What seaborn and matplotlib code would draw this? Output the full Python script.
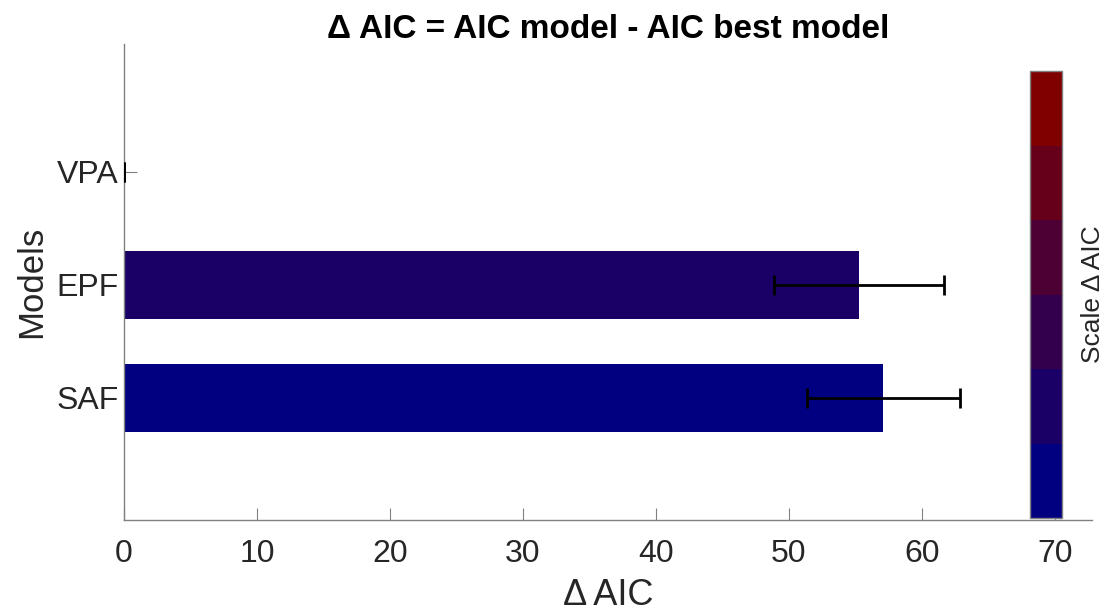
import numpy as np
import pandas as pd
import matplotlib
matplotlib.use("Agg")
import matplotlib.pyplot as plt
import seaborn as sns
from matplotlib.colors import ListedColormap, BoundaryNorm
import matplotlib.colorbar as mcolorbar

# ---- data ----
models = ["VPA", "EPF", "SAF"]
delta_aic = [0.0, 55.3, 57.1]
delta_err = [0.0, 6.4, 5.75]
scale_colors = ["#000080", "#1a0066", "#33004d", "#4d0033", "#66001a", "#800000"]
bar_colors = ["#000080", "#1a0066", "#000080"]
x_ticks = [0, 10, 20, 30, 40, 50, 60, 70]

sns.set_style("white")
plt.rcParams['font.family'] = ['Liberation Sans', 'DejaVu Sans']

fig = plt.figure(figsize=(11.06, 6.16), dpi=100)
ax = fig.add_axes([124/1106, 1-520/616, (1092-124)/1106, (520-44)/616])

df = pd.DataFrame({"model": models, "value": delta_aic})
sns.barplot(data=df, x="value", y="model", hue="model", palette=bar_colors,
            orient="h", width=0.6, ax=ax, legend=False, saturation=1, edgecolor="none")

ypos = np.arange(len(models))
ax.errorbar(delta_aic, ypos, xerr=delta_err, fmt="none", ecolor="black",
            elinewidth=2.0, capsize=7, capthick=2.0, zorder=5)

ax.set_xlim(0, 72.8)
ax.set_ylim(3.08, -1.13)
ax.set_xticks(x_ticks)
ax.set_xticklabels([str(t) for t in x_ticks])

for s in ["top", "right"]:
    ax.spines[s].set_visible(False)
for s in ["left", "bottom"]:
    ax.spines[s].set_color("#808080")
    ax.spines[s].set_linewidth(1.0)

ax.tick_params(axis="both", direction="in", length=9, width=0.8, color="#808080",
               labelsize=23, labelcolor="#262626", bottom=True, left=True)
ax.tick_params(axis="x", pad=14)
ax.tick_params(axis="y", pad=4)

ax.set_xlabel("Δ AIC", fontsize=26, color="#262626", labelpad=6)
ax.set_ylabel("Models", fontsize=25, color="#262626", labelpad=6)
ax.set_title("Δ AIC = AIC model - AIC best model", fontsize=24, fontweight="bold",
             color="black", pad=4)

# colorbar
cax = fig.add_axes([1030/1106, 1-518/616, 32/1106, (518-71)/616])
cmap = ListedColormap(scale_colors)
norm = BoundaryNorm(np.arange(0, 7), cmap.N)
cb = mcolorbar.ColorbarBase(cax, cmap=cmap, norm=norm, orientation="vertical")
cb.set_ticks(np.arange(0, 7))
cb.set_ticklabels([""] * 7)
cb.outline.set_edgecolor("#808080")
cb.outline.set_linewidth(1.0)
cax.tick_params(direction="in", length=3, color="#555555", right=True, left=False)
cb.set_label("Scale Δ AIC", fontsize=19, color="#262626", labelpad=10)

fig.savefig("out.png", dpi=100)
